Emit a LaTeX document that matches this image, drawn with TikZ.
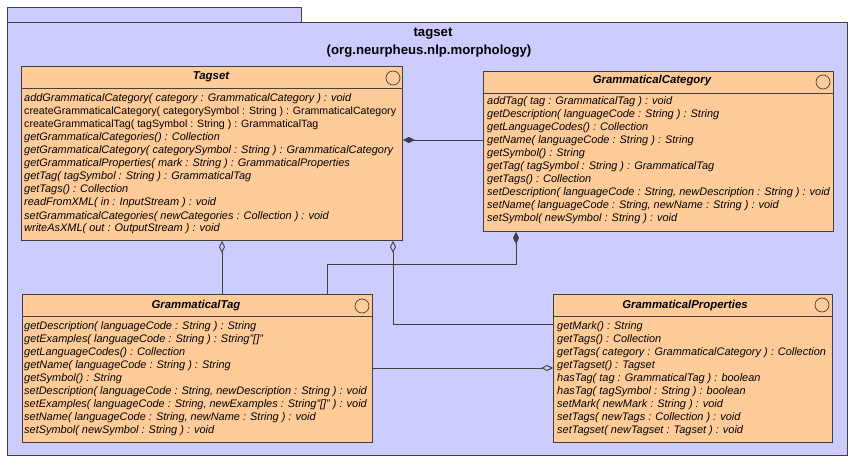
\documentclass[tikz,border=0pt]{standalone}
\usepackage{fontspec}
\setmainfont{Liberation Sans}
\usetikzlibrary{arrows.meta}
\definecolor{pkgfill}{HTML}{CCCCFF}
\definecolor{clsfill}{HTML}{FFCC99}
\definecolor{edge}{HTML}{404040}
\newcommand{\memfont}{\fontsize{10.6}{13}\selectfont}
\newcommand{\memfontit}{\fontsize{10.95}{13}\selectfont\itshape}
\tikzset{
  pkg/.style={draw=edge, fill=pkgfill, line width=0.9pt},
  classbox/.style={draw=edge, fill=clsfill, line width=0.9pt, anchor=north west, inner sep=0pt},
  ctitle/.style={anchor=base, inner sep=0pt, font=\fontsize{11.4}{13}\selectfont\bfseries\itshape},
  ptitle/.style={anchor=base, inner sep=0pt, font=\fontsize{13.2}{15}\selectfont\bfseries},
  mem/.style={anchor=base west, inner sep=0pt, font=\memfontit},
  memup/.style={anchor=base west, inner sep=0pt, font=\memfont},
  stereo/.style={draw=edge, line width=0.7pt, circle, minimum size=14pt, inner sep=0pt},
  conn/.style={draw=edge, line width=0.9pt},
  comp/.style={conn, {Diamond[length=12pt,width=6pt]}-},
  aggr/.style={conn, {Diamond[open,length=12pt,width=6pt]}-},
  aggrend/.style={conn, -{Diamond[open,length=12pt,width=6pt]}},
}
\begin{document}
\begin{tikzpicture}[x=1pt,y=-1pt]
\useasboundingbox (0,0) rectangle (863,468);
% package
\draw[pkg] (7,7) rectangle (301,22);
\draw[pkg] (7,22) rectangle (847,455);
\node[ptitle] (pt1) at (433,37) {tagset};
\node[ptitle] (pt2) at (429,55) {(org.neurpheus.nlp.morphology)};

% Tagset
\node[classbox, minimum width=381pt, minimum height=174pt] (tagset) at (21,66) {};
\draw[conn] (21,88) -- (402,88);
\node[ctitle] (tagsetT) at (211,80) {Tagset};
\node[stereo] (tagsetC) at (393,78) {};
\node[mem]   (ts1)  at (24,102) {addGrammaticalCategory( category : GrammaticalCategory ) : void};
\node[memup] (ts2)  at (24,115) {createGrammaticalCategory( categorySymbol : String ) : GrammaticalCategory};
\node[memup] (ts3)  at (24,128) {createGrammaticalTag( tagSymbol : String ) : GrammaticalTag};
\node[mem]   (ts4)  at (24,141) {getGrammaticalCategories() : Collection};
\node[mem]   (ts5)  at (24,154) {getGrammaticalCategory( categorySymbol : String ) : GrammaticalCategory};
\node[mem]   (ts6)  at (24,167) {getGrammaticalProperties( mark : String ) : GrammaticalProperties};
\node[mem]   (ts7)  at (24,180) {getTag( tagSymbol : String ) : GrammaticalTag};
\node[mem]   (ts8)  at (24,193) {getTags() : Collection};
\node[mem]   (ts9)  at (24,206) {readFromXML( in : InputStream ) : void};
\node[mem]   (ts10) at (24,219) {setGrammaticalCategories( newCategories : Collection ) : void};
\node[mem]   (ts11) at (24,232) {writeAsXML( out : OutputStream ) : void};

% GrammaticalCategory
\node[classbox, minimum width=350pt, minimum height=160pt] (gcat) at (483,71) {};
\draw[conn] (483,93) -- (833,93);
\node[ctitle] (gcatT) at (652,84) {GrammaticalCategory};
\node[stereo] (gcatC) at (823,82) {};
\node[mem] (gc1)  at (487,105) {addTag( tag : GrammaticalTag ) : void};
\node[mem] (gc2)  at (487,118) {getDescription( languageCode : String ) : String};
\node[mem] (gc3)  at (487,131) {getLanguageCodes() : Collection};
\node[mem] (gc4)  at (487,144) {getName( languageCode : String ) : String};
\node[mem] (gc5)  at (487,157) {getSymbol() : String};
\node[mem] (gc6)  at (487,170) {getTag( tagSymbol : String ) : GrammaticalTag};
\node[mem] (gc7)  at (487,183) {getTags() : Collection};
\node[mem] (gc8)  at (487,196) {setDescription( languageCode : String, newDescription : String ) : void};
\node[mem] (gc9)  at (487,209) {setName( languageCode : String, newName : String ) : void};
\node[mem] (gc10) at (487,222) {setSymbol( newSymbol : String ) : void};

% GrammaticalTag
\node[classbox, minimum width=350pt, minimum height=148pt] (gtag) at (22,294) {};
\draw[conn] (22,316) -- (372,316);
\node[ctitle] (gtagT) at (196,308) {GrammaticalTag};
\node[stereo] (gtagC) at (362,306) {};
\node[mem] (gt1) at (24,329) {getDescription( languageCode : String ) : String};
\node[mem] (gt2) at (24,342) {getExamples( languageCode : String ) : String"[]"};
\node[mem] (gt3) at (24,355) {getLanguageCodes() : Collection};
\node[mem] (gt4) at (24,368) {getName( languageCode : String ) : String};
\node[mem] (gt5) at (24,381) {getSymbol() : String};
\node[mem] (gt6) at (24,394) {setDescription( languageCode : String, newDescription : String ) : void};
\node[mem] (gt7) at (24,407) {setExamples( languageCode : String, newExamples : String"[]" ) : void};
\node[mem] (gt8) at (24,420) {setName( languageCode : String, newName : String ) : void};
\node[mem] (gt9) at (24,433) {setSymbol( newSymbol : String ) : void};

% GrammaticalProperties
\node[classbox, minimum width=279pt, minimum height=148pt] (gprop) at (553,294) {};
\draw[conn] (553,316) -- (832,316);
\node[ctitle] (gpropT) at (685,308) {GrammaticalProperties};
\node[stereo] (gpropC) at (822,305) {};
\node[mem] (gp1) at (557,329) {getMark() : String};
\node[mem] (gp2) at (557,342) {getTags() : Collection};
\node[mem] (gp3) at (557,355) {getTags( category : GrammaticalCategory ) : Collection};
\node[mem] (gp4) at (557,368) {getTagset() : Tagset};
\node[mem] (gp5) at (557,381) {hasTag( tag : GrammaticalTag ) : boolean};
\node[mem] (gp6) at (557,394) {hasTag( tagSymbol : String ) : boolean};
\node[mem] (gp7) at (557,407) {setMark( newMark : String ) : void};
\node[mem] (gp8) at (557,420) {setTags( newTags : Collection ) : void};
\node[mem] (gp9) at (557,433) {setTagset( newTagset : Tagset ) : void};

% connectors
\coordinate (c1) at (0,140);
\coordinate (c2) at (222,0);
\coordinate (c3) at (393,0);
\coordinate (c4) at (0,324);
\coordinate (c5) at (516,264);
\coordinate (c7) at (327,0);
\coordinate (c8) at (0,368);
\draw[comp] (tagset.east |- c1) -- (gcat.west |- c1);
\draw[aggr] (tagset.south -| c2) -- (gtag.north -| c2);
\draw[aggr] (tagset.south -| c3) |- (gprop.west |- c4);
\draw[comp] (gcat.south -| c5) -- (c5) -| (gtag.north -| c7);
\draw[aggrend] (gtag.east |- c8) -- (gprop.west |- c8);
\end{tikzpicture}
\end{document}
